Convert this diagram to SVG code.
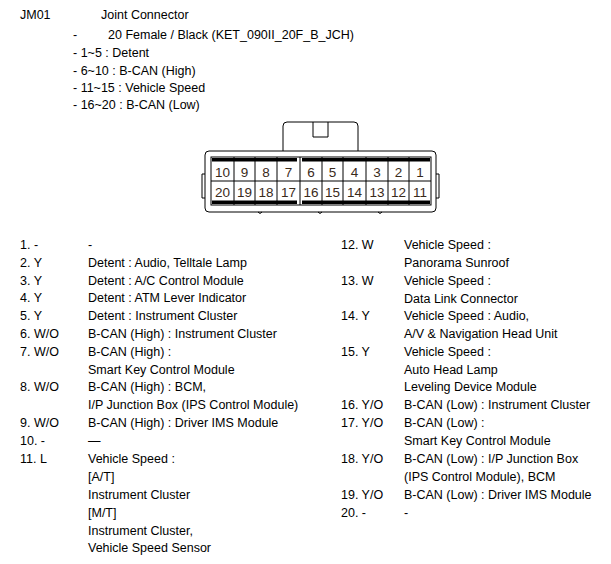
<svg xmlns="http://www.w3.org/2000/svg" width="611" height="564" viewBox="0 0 611 564">
<style>
text{font-family:"Liberation Sans",Arial,sans-serif;font-size:12.5px;fill:#000}
.n{font-size:13.5px;text-anchor:middle;fill:#3a2a1a}
.o{fill:none;stroke:#000;stroke-width:1}
</style>
<rect width="611" height="564" fill="#fff"/>
<g id="header">
<text x="20" y="19">JM01</text><text x="101" y="19">Joint Connector</text>
<text x="73" y="39">-</text><text x="108" y="39">20 Female / Black (KET_090II_20F_B_JCH)</text>
<text x="73" y="57">- 1~5 : Detent</text>
<text x="73" y="75">- 6~10 : B-CAN (High)</text>
<text x="73" y="92">- 11~15 : Vehicle Speed</text>
<text x="73" y="109">- 16~20 : B-CAN (Low)</text>
</g>
<g id="connector">
<path class="o" d="M283,151 V126 Q283,122 287,122 H354 Q358,122 358,126 V151"/>
<path class="o" d="M313,122 V137 H328 V122"/>
<path class="o" d="M209,151 H432 Q436,151 436,155 V208 Q436,212 432,212 H209 Q205,212 205,208 V155 Q205,151 209,151 Z"/>
<path class="o" d="M205,174 H202 V198 H205 M436,174 H439 V198 H436"/>
<path class="o" d="M258,212 Q260,215 262,212 M318,212 Q320,215 322,212 M378,212 Q380,215 382,212"/>
<rect class="o" x="211" y="157" width="220" height="48"/>
<rect x="212" y="158" width="85" height="3.5" fill="#000"/>
<rect x="302" y="158" width="128" height="3.5" fill="#000"/>
<rect x="212" y="200.5" width="85" height="3.5" fill="#000"/>
<rect x="302" y="200.5" width="128" height="3.5" fill="#000"/>
<path class="o" d="M211,181 H431 M234,157 V205 M255,157 V205 M277,157 V205 M300,157 V205 M322,157 V205 M343,157 V205 M366,157 V205 M388,157 V205 M409,157 V205"/>
<text class="n" x="222.5" y="177">10</text><text class="n" x="244.5" y="177">9</text><text class="n" x="266" y="177">8</text><text class="n" x="288.5" y="177">7</text><text class="n" x="311" y="177">6</text><text class="n" x="332.5" y="177">5</text><text class="n" x="354.5" y="177">4</text><text class="n" x="377" y="177">3</text><text class="n" x="398.5" y="177">2</text><text class="n" x="420" y="177">1</text>
<text class="n" x="222.5" y="197">20</text><text class="n" x="244.5" y="197">19</text><text class="n" x="266" y="197">18</text><text class="n" x="288.5" y="197">17</text><text class="n" x="311" y="197">16</text><text class="n" x="332.5" y="197">15</text><text class="n" x="354.5" y="197">14</text><text class="n" x="377" y="197">13</text><text class="n" x="398.5" y="197">12</text><text class="n" x="420" y="197">11</text>
</g>
<g id="left-table">
<text x="20" y="249">1. -</text><text x="88" y="249">-</text>
<text x="20" y="267">2. Y</text><text x="88" y="267">Detent : Audio, Telltale Lamp</text>
<text x="20" y="285">3. Y</text><text x="88" y="285">Detent : A/C Control Module</text>
<text x="20" y="302">4. Y</text><text x="88" y="302">Detent : ATM Lever Indicator</text>
<text x="20" y="320">5. Y</text><text x="88" y="320">Detent : Instrument Cluster</text>
<text x="20" y="338">6. W/O</text><text x="88" y="338">B-CAN (High) : Instrument Cluster</text>
<text x="20" y="356">7. W/O</text><text x="88" y="356">B-CAN (High) :</text>
<text x="88" y="374">Smart Key Control Module</text>
<text x="20" y="391">8. W/O</text><text x="88" y="391">B-CAN (High) : BCM,</text>
<text x="88" y="409">I/P Junction Box (IPS Control Module)</text>
<text x="20" y="427">9. W/O</text><text x="88" y="427">B-CAN (High) : Driver IMS Module</text>
<text x="20" y="445">10. -</text><text x="88" y="445">—</text>
<text x="20" y="463">11. L</text><text x="88" y="463">Vehicle Speed :</text>
<text x="88" y="481">[A/T]</text>
<text x="88" y="499">Instrument Cluster</text>
<text x="88" y="517">[M/T]</text>
<text x="88" y="535">Instrument Cluster,</text>
<text x="88" y="552">Vehicle Speed Sensor</text>
</g>
<g id="right-table">
<text x="341" y="249">12. W</text><text x="404" y="249">Vehicle Speed :</text>
<text x="404" y="267">Panorama Sunroof</text>
<text x="341" y="285">13. W</text><text x="404" y="285">Vehicle Speed :</text>
<text x="404" y="303">Data Link Connector</text>
<text x="341" y="320">14. Y</text><text x="404" y="320">Vehicle Speed : Audio,</text>
<text x="404" y="338">A/V &amp; Navigation Head Unit</text>
<text x="341" y="356">15. Y</text><text x="404" y="356">Vehicle Speed :</text>
<text x="404" y="374">Auto Head Lamp</text>
<text x="404" y="391">Leveling Device Module</text>
<text x="341" y="409">16. Y/O</text><text x="404" y="409">B-CAN (Low) : Instrument Cluster</text>
<text x="341" y="427">17. Y/O</text><text x="404" y="427">B-CAN (Low) :</text>
<text x="404" y="445">Smart Key Control Module</text>
<text x="341" y="463">18. Y/O</text><text x="404" y="463">B-CAN (Low) : I/P Junction Box</text>
<text x="404" y="481">(IPS Control Module), BCM</text>
<text x="341" y="499">19. Y/O</text><text x="404" y="499">B-CAN (Low) : Driver IMS Module</text>
<text x="341" y="517">20. -</text><text x="404" y="517">-</text>
</g>
</svg>
